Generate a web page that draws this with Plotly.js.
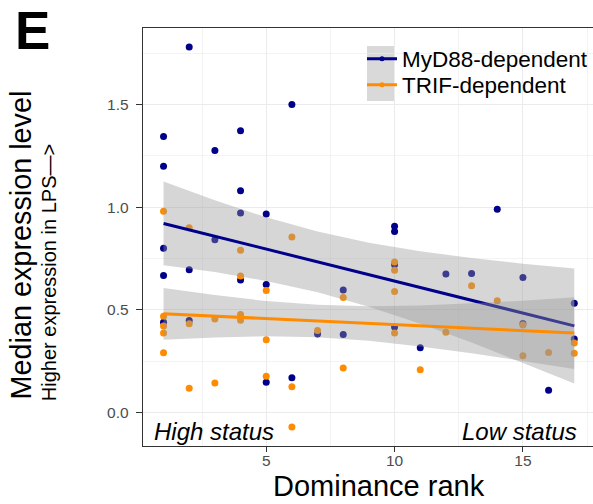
<!DOCTYPE html>
<html>
<head>
<meta charset="utf-8">
<script src="https://cdn.plot.ly/plotly-3.0.1.min.js"></script>
<style>html,body{margin:0;padding:0;background:#fff;}#chart{width:593px;height:504px;}</style>
</head>
<body>
<div id="chart"></div>
<script>
// Data
const rankMyD88 = [1,1,1,1,1, 2,2,2, 3,3, 4,4,4,4, 5,5,5, 6,6, 7, 8,8, 10,10,10,10, 11, 12, 13, 14, 15,15, 16, 17,17];
const exprMyD88 = [1.345,1.20,0.80,0.667,0.44, 1.78,0.695,0.448, 1.276,0.842, 1.372,1.08,0.972,0.646, 0.967,0.624,0.148, 1.50,0.169, 0.383, 0.597,0.38, 0.907,0.882,0.72,0.417, 0.315, 0.675, 0.677, 0.99, 0.658,0.434, 0.108, 0.532,0.358];
const rankTRIF = [1,1,1,1,1, 2,2,2, 3,3, 4,4,4,4, 5,5,5, 6,6,6, 7, 8,8, 10,10,10,10, 11, 12, 13, 14, 15,15, 16, 17,17];
const exprTRIF = [0.98,0.469,0.421,0.388,0.291, 0.90,0.433,0.118, 0.455,0.144, 0.79,0.665,0.477,0.45, 0.595,0.355,0.177, 0.855,0.125,-0.07, 0.399, 0.56,0.217, 0.733,0.693,0.589,0.388, 0.208, 0.391, 0.618, 0.545, 0.426,0.276, 0.293, 0.339,0.289];

// Fitted lines and confidence bands
const fitX    = [1,3,5,7,9,11,13,15,17];
const fitMyD88 = [0.921,0.859,0.796,0.734,0.671,0.609,0.547,0.484,0.422];
const loMyD88  = [0.717,0.684,0.641,0.586,0.515,0.433,0.341,0.243,0.142];
const hiMyD88  = [1.125,1.034,0.951,0.882,0.827,0.785,0.753,0.725,0.702];
const fitTRIF  = [0.481,0.469,0.457,0.446,0.434,0.422,0.410,0.398,0.387];
const loTRIF   = [0.355,0.366,0.371,0.367,0.350,0.322,0.289,0.251,0.212];
const hiTRIF   = [0.607,0.572,0.543,0.525,0.518,0.521,0.532,0.545,0.562];

const seriesNames = ['MyD88-dependent','TRIF-dependent'];
const xTickVals = [5,10,15];
const yTickVals = [0,0.5,1,1.5];
const yTickText = ['0.0','0.5','1.0','1.5'];

const NAVY = '#00008B', ORANGE = '#FF8C00';
const BAND = 'rgba(153,153,153,0.4)';
const FONT = 'Liberation Sans, Arial, Helvetica, sans-serif';

// layout helpers (pixel -> paper)
const L = 143, R = 0, T = 28, B = 58, W = 593, H = 504;
const pw = W - L - R, ph = H - T - B;
const px = v => (v - L) / pw;
const py = v => (H - B - v) / ph;

function band(lo, hi) {
  return {
    x: fitX.concat(fitX.slice().reverse()),
    y: lo.concat(hi.slice().reverse()),
    type: 'scatter', mode: 'lines', fill: 'toself', fillcolor: BAND,
    line: {width: 0}, hoverinfo: 'skip', showlegend: false
  };
}

const data = [
  {x: rankMyD88, y: exprMyD88, type: 'scatter', mode: 'markers', marker: {color: NAVY, size: 7}, showlegend: false},
  {x: rankTRIF, y: exprTRIF, type: 'scatter', mode: 'markers', marker: {color: ORANGE, size: 7}, showlegend: false},
  band(loMyD88, hiMyD88),
  {x: fitX, y: fitMyD88, type: 'scatter', mode: 'lines', line: {color: NAVY, width: 3}, showlegend: false},
  band(loTRIF, hiTRIF),
  {x: fitX, y: fitTRIF, type: 'scatter', mode: 'lines', line: {color: ORANGE, width: 3}, showlegend: false},
  {x: [null], y: [null], type: 'scatter', mode: 'lines+markers', name: seriesNames[0], legend: 'legend', line: {color: NAVY, width: 3}, marker: {color: NAVY, size: 5}},
  {x: [null], y: [null], type: 'scatter', mode: 'lines+markers', name: seriesNames[1], legend: 'legend2', line: {color: ORANGE, width: 3}, marker: {color: ORANGE, size: 5}}
];

const legendBase = (top) => ({
  x: px(362), y: py(top), xanchor: 'left', yanchor: 'top',
  bgcolor: 'rgba(0,0,0,0)', borderwidth: 0,
  font: {family: FONT, size: 22.5, color: '#000'}
});

const gridCol = '#ebebeb';
const layout = {
  width: W, height: H,
  margin: {l: L, r: R, t: T, b: B, pad: 0},
  paper_bgcolor: '#fff', plot_bgcolor: '#fff',
  font: {family: FONT, color: '#000'},
  showlegend: true,
  legend: legendBase(37.5),
  legend2: legendBase(63.5),
  xaxis: {
    range: [0.2, 17.73], tickvals: xTickVals, ticktext: xTickVals.map(String),
    ticks: 'outside', ticklen: 5, tickwidth: 1.1, tickcolor: '#333',
    tickfont: {family: FONT, size: 15.5, color: '#4d4d4d'}, ticklabelstandoff: -5,
    showgrid: true, gridcolor: gridCol, gridwidth: 1.1,
    minor: {dtick: 2.5, showgrid: true, gridcolor: gridCol, gridwidth: 0.6, ticks: ''},
    showline: true, linecolor: '#333', linewidth: 1.3, mirror: true,
    zeroline: false
  },
  yaxis: {
    range: [-0.163, 1.873], tickvals: yTickVals, ticktext: yTickText,
    ticks: 'outside', ticklen: 6, tickwidth: 1.1, tickcolor: '#333',
    tickfont: {family: FONT, size: 15.5, color: '#4d4d4d'}, ticklabelstandoff: 4,
    showgrid: true, gridcolor: gridCol, gridwidth: 1.1,
    minor: {dtick: 0.25, showgrid: true, gridcolor: gridCol, gridwidth: 0.6, ticks: ''},
    showline: true, linecolor: '#333', linewidth: 1.3, mirror: false,
    zeroline: false
  },
  shapes: [
    {type: 'rect', xref: 'paper', yref: 'paper', x0: px(358), x1: px(395), y0: py(105), y1: py(29), fillcolor: '#fff', line: {width: 0}, layer: 'below'},
    {type: 'rect', xref: 'paper', yref: 'paper', x0: px(367), x1: px(394), y0: py(101), y1: py(46), fillcolor: '#d9d9d9', line: {width: 0}, layer: 'below'}
  ],
  annotations: [
    {text: '<b>E</b>', xref: 'paper', yref: 'paper', x: px(13.5), y: py(30), xanchor: 'left', yanchor: 'middle', showarrow: false, borderpad: 0, font: {family: FONT, size: 53, color: '#000'}},
    {text: 'Median expression level', xref: 'paper', yref: 'paper', x: px(20.5), y: py(245), xanchor: 'center', yanchor: 'middle', textangle: -90, showarrow: false, borderpad: 0, font: {family: FONT, size: 28.8, color: '#000'}},
    {text: 'Higher expression in LPS\u2014>', xref: 'paper', yref: 'paper', x: px(48.7), y: py(272.5), xanchor: 'center', yanchor: 'middle', textangle: -90, showarrow: false, borderpad: 0, font: {family: FONT, size: 20, color: '#000'}},
    {text: 'Dominance rank', xref: 'paper', yref: 'paper', x: px(379), y: py(486), xanchor: 'center', yanchor: 'middle', showarrow: false, borderpad: 0, font: {family: FONT, size: 29, color: '#000'}},
    {text: '<i>High status</i>', xref: 'paper', yref: 'paper', x: px(153), y: py(431), xanchor: 'left', yanchor: 'middle', showarrow: false, borderpad: 0, font: {family: FONT, size: 24, color: '#000'}},
    {text: '<i>Low status</i>', xref: 'paper', yref: 'paper', x: px(578), y: py(431), xanchor: 'right', yanchor: 'middle', showarrow: false, borderpad: 0, font: {family: FONT, size: 24, color: '#000'}}
  ]
};

Plotly.newPlot('chart', data, layout, {displayModeBar: false, staticPlot: true});
</script>
</body>
</html>
